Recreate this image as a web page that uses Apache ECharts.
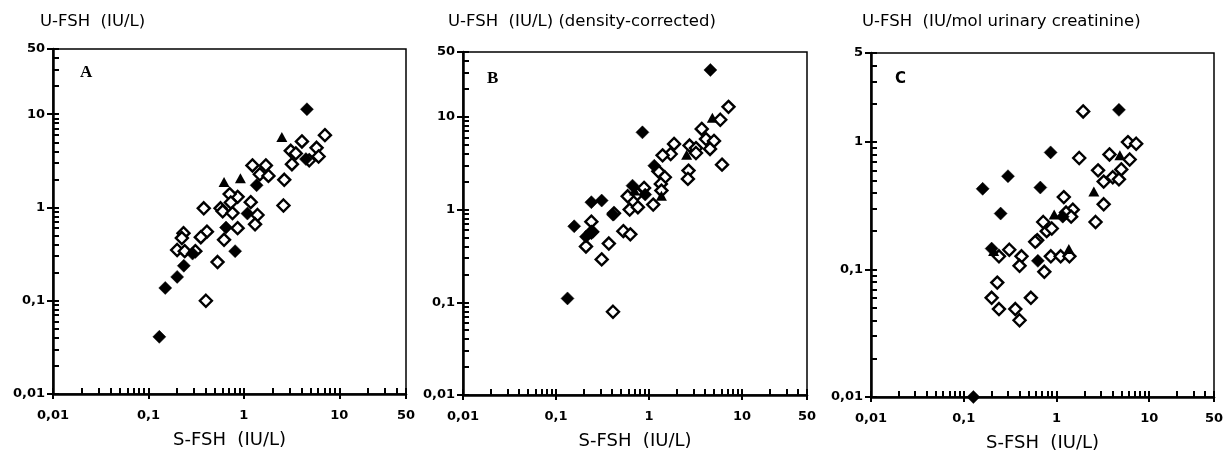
<!DOCTYPE html>
<html><head><meta charset="utf-8">
<script src="https://cdn.jsdelivr.net/npm/echarts@6/dist/echarts.min.js"></script>
<style>html,body{margin:0;padding:0;background:#fff}#c{width:1228px;height:455px}</style>
</head><body><div id="c"></div>
<script>
// ---- Panel A: U-FSH (IU/L) vs S-FSH (IU/L)
const aOpen = [[7.07,5.96],[4.06,5.1],[3.1,4.05],[3.5,3.8],[3.19,2.91],[5.78,4.36],[6.07,3.52],[4.84,3.2],[2.65,1.98],[2.6,1.05],[1.23,2.82],[1.70,2.82],[1.47,2.27],[1.81,2.18],[1.18,1.14],[1.39,0.83],[1.31,0.66],[0.86,1.30],[0.71,1.39],[0.73,1.13],[0.57,0.98],[0.60,0.91],[0.76,0.87],[0.86,0.60],[0.62,0.45],[0.53,0.26],[0.38,0.98],[0.41,0.55],[0.354,0.48],[0.233,0.53],[0.224,0.47],[0.20,0.35],[0.24,0.34],[0.31,0.34],[0.40,0.10]];
const aFilled = [[4.58,11.3],[4.47,3.3],[1.36,1.73],[1.09,0.86],[0.65,0.61],[0.81,0.34],[0.29,0.32],[0.235,0.237],[0.20,0.18],[0.15,0.137],[0.13,0.041]];
const aTri = [[0.62,1.88],[0.92,2.06],[2.5,5.7]];
// ---- Panel B: U-FSH (IU/L) density-corrected
const bOpen = [[7.16,12.8],[5.84,9.3],[3.69,7.4],[4.1,5.75],[5.0,5.5],[4.53,4.5],[6.1,3.05],[2.73,4.9],[3.2,4.6],[3.2,4.07],[2.66,2.63],[2.62,2.14],[1.86,5.1],[1.71,3.97],[1.40,3.84],[1.48,2.23],[1.34,1.89],[1.36,1.6],[1.26,2.58],[1.11,1.13],[0.885,1.71],[0.75,1.47],[0.59,1.39],[0.62,1.0],[0.76,1.06],[0.53,0.585],[0.63,0.54],[0.42,0.91],[0.24,0.74],[0.24,0.57],[0.21,0.40],[0.37,0.43],[0.31,0.29],[0.41,0.079]];
const bFilled = [[4.57,32],[0.85,6.8],[1.14,2.97],[0.665,1.81],[0.91,1.45],[0.24,1.2],[0.31,1.25],[0.41,0.88],[0.157,0.66],[0.21,0.51],[0.25,0.575],[0.133,0.11]];
const bTri = [[1.36,1.41],[2.54,3.9],[4.8,9.8],[0.7,1.6]];
// ---- Panel C: U-FSH (IU/mol urinary creatinine)
const cOpen = [[1.94,1.74],[5.9,1.0],[7.24,0.97],[1.76,0.75],[3.73,0.80],[6.16,0.73],[5.0,0.61],[2.81,0.60],[3.23,0.49],[4.05,0.53],[4.72,0.51],[3.23,0.325],[2.64,0.236],[1.2,0.37],[1.50,0.295],[1.27,0.28],[1.44,0.26],[0.72,0.236],[0.785,0.20],[0.89,0.21],[0.62,0.17],[0.59,0.165],[0.31,0.143],[0.24,0.127],[0.42,0.127],[0.40,0.107],[0.87,0.127],[1.11,0.127],[1.38,0.127],[0.74,0.096],[0.23,0.079],[0.2,0.06],[0.24,0.049],[0.36,0.049],[0.40,0.040],[0.53,0.06]];
const cFilled = [[4.72,1.79],[0.865,0.83],[0.30,0.54],[0.67,0.44],[0.16,0.43],[0.25,0.275],[0.2,0.146],[0.63,0.117],[1.17,0.26],[0.127,0.01]];
const cTri = [[4.83,0.79],[2.53,0.41],[0.945,0.27],[1.36,0.145],[0.21,0.14]];

const xLabels = [0.01, 0.1, 1, 10, 50];
const yLabelsAB = [0.01, 0.1, 1, 10, 50];
const yLabelsC = [0.01, 0.1, 1, 5];
const panelTitles = ['U-FSH  (IU/L)', 'U-FSH  (IU/L) (density-corrected)', 'U-FSH  (IU/mol urinary creatinine)'];
const panelLetters = ['A', 'B', 'C'];
const xName = 'S-FSH  (IU/L)';

function logTicks(min, max) {
  const out = [];
  for (let e = -3; e <= 3; e++) for (let k = 1; k <= 9; k++) {
    const v = +(k * Math.pow(10, e)).toPrecision(6);
    if (v >= min - 1e-12 && v <= max + 1e-12) out.push(v);
  }
  return out;
}
const fmt = v => String(+(+v).toPrecision(6)).replace('.', ',');
const FONT = 'DejaVu Sans';

const grids = [
  {left: 53, top: 49, width: 353, height: 345},
  {left: 463, top: 52, width: 344, height: 343},
  {left: 871, top: 53, width: 343, height: 344}
];
const yMax = [50, 50, 5];
const yLab = [yLabelsAB, yLabelsAB, yLabelsC];
const data = [[aOpen, aFilled, aTri], [bOpen, bFilled, bTri], [cOpen, cFilled, cTri]];

const xAxis = [], yAxis = [], series = [], title = [];
grids.forEach((g, i) => {
  xAxis.push({type: 'log', logBase: 10, gridIndex: i, min: 0.01, max: 50,
    name: xName, nameLocation: 'middle', nameGap: 37,
    nameTextStyle: {fontFamily: FONT, fontSize: 18, color: '#000'},
    axisLine: {show: true, lineStyle: {color: '#000', width: 2.5}},
    axisTick: {show: true, inside: false, length: 5, customValues: xLabels, lineStyle: {color: '#000', width: 2}},
    axisLabel: {show: true, customValues: xLabels, formatter: fmt, margin: 15,
      fontFamily: FONT, fontSize: 13, fontWeight: 'bold', color: '#000'},
    splitLine: {show: false}, minorTick: {show: false}});
  xAxis.push({type: 'log', logBase: 10, gridIndex: i, min: 0.01, max: 50, position: 'bottom',
    axisLine: {show: false},
    axisTick: {show: true, inside: true, length: 6, customValues: logTicks(0.01, 50), lineStyle: {color: '#000', width: 2}},
    axisLabel: {show: false}, splitLine: {show: false}});
  yAxis.push({type: 'log', logBase: 10, gridIndex: i, min: 0.01, max: yMax[i],
    axisLine: {show: true, lineStyle: {color: '#000', width: 2.5}},
    axisTick: {show: true, inside: false, length: 6, customValues: yLab[i], lineStyle: {color: '#000', width: 2}},
    axisLabel: {show: true, customValues: yLab[i], formatter: fmt, margin: 8,
      fontFamily: FONT, fontSize: 13, fontWeight: 'bold', color: '#000'},
    splitLine: {show: false}});
  yAxis.push({type: 'log', logBase: 10, gridIndex: i, min: 0.01, max: yMax[i], position: 'left',
    axisLine: {show: false},
    axisTick: {show: true, inside: true, length: 6, customValues: logTicks(0.01, yMax[i]), lineStyle: {color: '#000', width: 2}},
    axisLabel: {show: false}, splitLine: {show: false}});
  const xi = i * 2, yi = i * 2;
  const [op, fi, tr] = data[i];
  series.push({type: 'scatter', xAxisIndex: xi, yAxisIndex: yi, data: op, symbol: 'diamond', symbolSize: 12,
    itemStyle: {color: '#fff', borderColor: '#000', borderWidth: 2.4, opacity: 1}, silent: true});
  series.push({type: 'scatter', xAxisIndex: xi, yAxisIndex: yi, data: fi, symbol: 'diamond', symbolSize: 13,
    itemStyle: {color: '#000', borderColor: '#000', borderWidth: 0.5, opacity: 1}, silent: true});
  series.push({type: 'scatter', xAxisIndex: xi, yAxisIndex: yi, data: tr, symbol: 'triangle', symbolSize: [11, 10],
    itemStyle: {color: '#000', opacity: 1}, silent: true});
  title.push({text: panelTitles[i], left: [35, 443, 857][i], top: 8,
    textStyle: {fontFamily: FONT, fontSize: 16.5, fontWeight: 'normal', color: '#000'}});
  title.push({text: panelLetters[i], left: [75, 482, 890][i], top: [59, 65, 67][i],
    textStyle: {fontFamily: i < 2 ? 'Liberation Serif' : FONT, fontSize: i < 2 ? 17 : 15, fontWeight: 'bold', color: '#000'}});
});

const chart = echarts.init(document.getElementById('c'), null, {renderer: 'canvas'});
chart.setOption({
  animation: false,
  backgroundColor: '#fff',
  title: title,
  grid: grids.map(g => Object.assign({show: true, borderColor: '#000', borderWidth: 1.5, backgroundColor: 'transparent', containLabel: false, outerBoundsMode: 'none'}, g)),
  xAxis: xAxis,
  yAxis: yAxis,
  series: series
});
</script></body></html>
